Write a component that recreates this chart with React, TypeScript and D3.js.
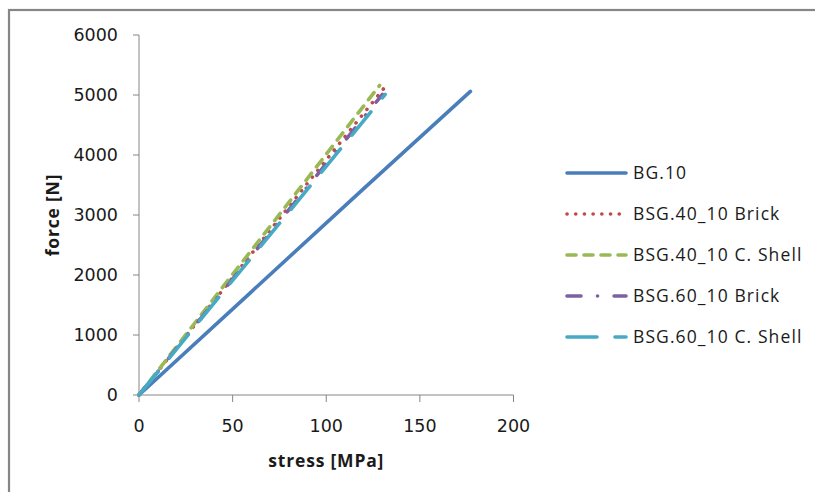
import React from "react";
import * as d3 from "d3";

const seriesNames = [
  "BG.10",
  "BSG.40_10 Brick",
  "BSG.40_10 C. Shell",
  "BSG.60_10 Brick",
  "BSG.60_10 C. Shell",
];
const bg10Stress = [0, 60, 120, 177];
const bg10Force = [0, 1720, 3440, 5060];
const bsg40BrickStress = [0, 45, 90, 130.5];
const bsg40BrickForce = [0, 1760, 3530, 5100];
const bsg40ShellStress = [0, 45, 90, 128.5];
const bsg40ShellForce = [0, 1810, 3610, 5160];
const bsg60BrickStress = [0, 45, 90, 130];
const bsg60BrickForce = [0, 1740, 3470, 5010];
const bsg60ShellStress = [0, 45, 90, 131.5];
const bsg60ShellForce = [0, 1720, 3430, 5010];
const xTicks = [0, 50, 100, 150, 200];
const yTicks = [0, 1000, 2000, 3000, 4000, 5000, 6000];

const colors = ["#4A7EBB", "#BE4B48", "#98B954", "#7D60A0", "#46AAC5"];
const dashes = ["none", "0.1 8.6", "9 8", "14 16.5 0.1 16.5", "30 18"];

const W = 815;
const H = 492;
const left = 139;
const right = 513.5;
const top = 35;
const bottom = 395;

export default function App() {
  const x = d3.scaleLinear().domain([0, 200]).range([left, right]);
  const y = d3.scaleLinear().domain([0, 6000]).range([bottom, top]);
  const data = [
    [bg10Stress, bg10Force],
    [bsg40BrickStress, bsg40BrickForce],
    [bsg40ShellStress, bsg40ShellForce],
    [bsg60BrickStress, bsg60BrickForce],
    [bsg60ShellStress, bsg60ShellForce],
  ];
  const line = d3
    .line<[number, number]>()
    .x((d) => x(d[0]))
    .y((d) => y(d[1]));
  const axisColor = "#868686";
  const tickFont = "'DejaVu Sans', sans-serif";
  const legFont = "'Open Sans', Lato, sans-serif";
  const legendX = 567;
  const legendY0 = 173;
  const legendDy = 41;
  return (
    <svg
      width={W}
      height={H}
      style={{ position: "absolute", left: 0, top: 0, background: "#fff" }}
    >
      <rect x={0} y={0} width={W} height={H} fill="#fff" />
      <rect
        x={9}
        y={10}
        width={W + 20}
        height={H + 20}
        fill="none"
        stroke="#868686"
        strokeWidth={2.2}
      />
      {/* axes */}
      <line x1={left} x2={right} y1={bottom} y2={bottom} stroke={axisColor} strokeWidth={1} />
      <line x1={left} x2={left} y1={top} y2={bottom} stroke={axisColor} strokeWidth={1} />
      {yTicks.map((t) => (
        <g key={"y" + t}>
          <line x1={left - 6} x2={left} y1={y(t)} y2={y(t)} stroke={axisColor} strokeWidth={1} />
          <text
            x={118}
            y={y(t)}
            dy="0.36em"
            textAnchor="end"
            fontFamily={tickFont}
            fontSize={17.5}
            fill="#1a1a1a"
          >
            {t}
          </text>
        </g>
      ))}
      {xTicks.map((t) => (
        <g key={"x" + t}>
          <line x1={x(t)} x2={x(t)} y1={bottom} y2={bottom + 7} stroke={axisColor} strokeWidth={1} />
          <text
            x={x(t)}
            y={426}
            dy="0.36em"
            textAnchor="middle"
            fontFamily={tickFont}
            fontSize={17.5}
            fill="#1a1a1a"
          >
            {t}
          </text>
        </g>
      ))}
      <text
        x={(left + right) / 2}
        y={461}
        dy="0.36em"
        textAnchor="middle"
        fontFamily={legFont}
        fontWeight="bold"
        fontSize={17.5}
        letterSpacing={0.8}
        fill="#1a1a1a"
      >
        stress [MPa]
      </text>
      <text
        transform={`translate(53,${(top + bottom) / 2}) rotate(-90)`}
        dy="0.36em"
        textAnchor="middle"
        fontFamily={legFont}
        fontWeight="bold"
        fontSize={17.5}
        letterSpacing={0.8}
        fill="#1a1a1a"
      >
        force [N]
      </text>
      {/* series */}
      {data.map((s, i) => {
        const pts = s[0].map((v, j) => [v, s[1][j]] as [number, number]);
        return (
          <path
            key={"s" + i}
            d={line(pts) || ""}
            fill="none"
            stroke={colors[i]}
            strokeWidth={3.6}
            strokeLinecap="round"
            strokeLinejoin="round"
            strokeDasharray={dashes[i]}
          />
        );
      })}
      {/* legend */}
      {seriesNames.map((n, i) => {
        const ly = legendY0 + i * legendDy;
        return (
          <g key={"l" + i}>
            <line
              x1={legendX}
              x2={legendX + 59}
              y1={ly}
              y2={ly}
              stroke={colors[i]}
              strokeWidth={3.6}
              strokeLinecap="round"
              strokeDasharray={dashes[i]}
            />
            <text
              x={633}
              y={ly}
              dy="0.36em"
              fontFamily={legFont}
              fontSize={17.5}
              letterSpacing={1.1}
              fill="#1a1a1a"
            >
              {n}
            </text>
          </g>
        );
      })}
    </svg>
  );
}
